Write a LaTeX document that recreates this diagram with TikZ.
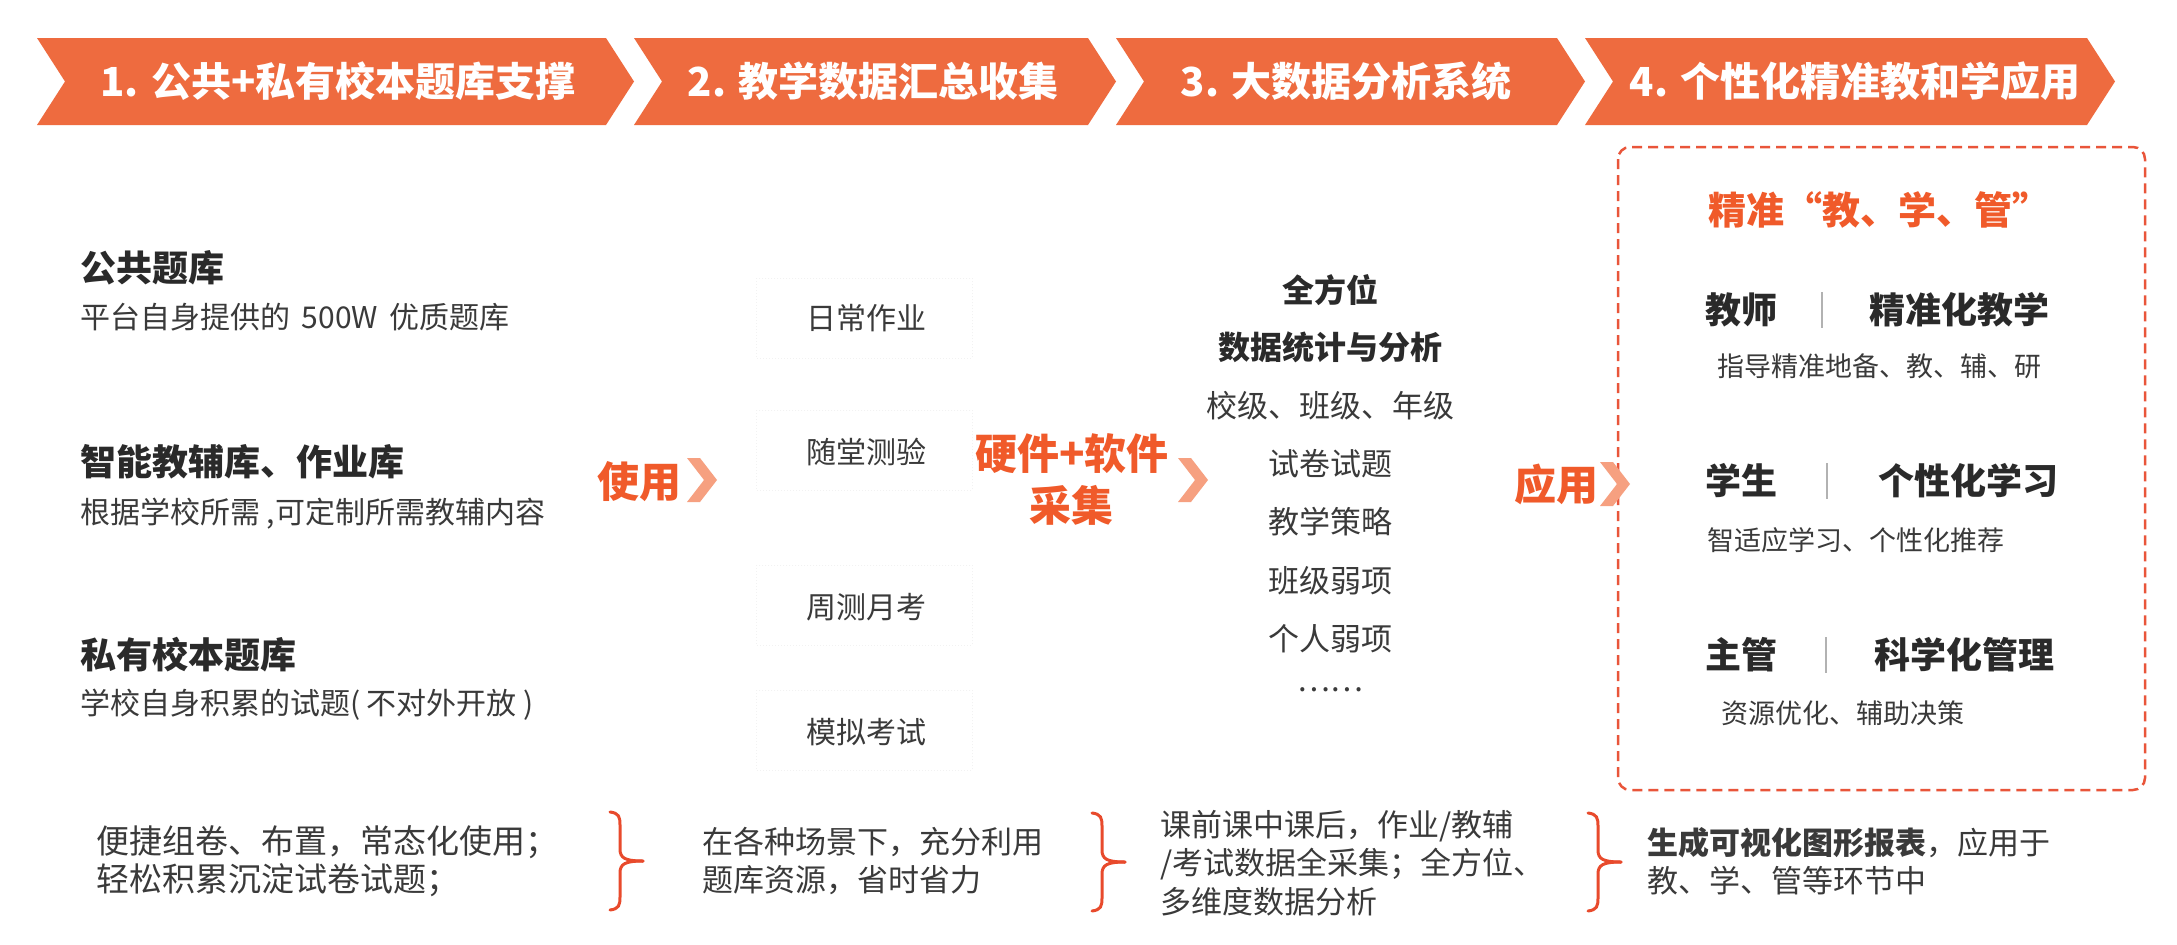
\documentclass[tikz,border=0pt]{standalone}
\usepackage{fontspec}
\newfontfamily\cjk{Noto Sans CJK SC}
\definecolor{bannerc}{HTML}{EE6B3F}
\definecolor{orc}{HTML}{F05A2A}
\definecolor{boxc}{HTML}{E9553A}
\definecolor{bracec}{HTML}{E84A2C}
\definecolor{lightor}{HTML}{F6A080}
\definecolor{darkc}{HTML}{2A2A2A}
\definecolor{midc}{HTML}{3A3A3A}
\newcommand\fsz[1]{\fontsize{#1pt}{#1pt}\selectfont}
\tikzset{
  every node/.style={inner sep=0pt,outer sep=0pt},
  bantext/.style={font=\cjk\bfseries\fsz{40}, text=white},
  head/.style={font=\cjk\bfseries\fsz{36}, text=darkc, anchor=west},
  subt/.style={font=\cjk\fsz{30}, text=midc, anchor=west},
  item/.style={font=\cjk\fsz{30}, text=midc},
  chead/.style={font=\cjk\bfseries\fsz{32}, text=darkc},
  citem/.style={font=\cjk\fsz{31}, text=midc},
  otext/.style={font=\cjk\bfseries\fsz{42}, text=orc},
  rhead/.style={font=\cjk\bfseries\fsz{36}, text=darkc, anchor=west},
  rsub/.style={font=\cjk\fsz{27}, text=midc, anchor=west},
  btext/.style={font=\cjk\fsz{31}, text=midc, anchor=west},
  faintbox/.style={draw=black!5, dotted, line width=1pt},
  sepline/.style={draw=black!30, line width=1.5pt},
  achev/.pic={\fill[lightor] (0,-22) -- (13,-22) -- (30,0) -- (13,22) -- (0,22) -- (17,0) -- cycle;},
  rbrace/.pic={
    \draw[bracec, line width=3pt, line cap=round]
      (0,-49) .. controls (9,-48) and (10,-44) .. (10,-36) -- (10,-12)
      .. controls (10,-3) and (15,0) .. (33,0);
    \draw[bracec, line width=3pt, line cap=round]
      (0,49) .. controls (9,48) and (10,44) .. (10,36) -- (10,12)
      .. controls (10,3) and (15,0) .. (33,0);}
}
\begin{document}
\begin{tikzpicture}[x=1pt,y=-1pt]
\useasboundingbox (0,0) rectangle (2177,945);
\fill[white] (0,0) rectangle (2177,945);

% banner chevrons
\fill[bannerc] (37,38) -- (606,38) -- (634,81.5) -- (606,125) -- (37,125) -- (65,81.5) -- cycle;
\fill[bannerc] (634,38) -- (1088,38) -- (1116,81.5) -- (1088,125) -- (634,125) -- (662,81.5) -- cycle;
\fill[bannerc] (1116,38) -- (1557,38) -- (1585,81.5) -- (1557,125) -- (1116,125) -- (1144,81.5) -- cycle;
\fill[bannerc] (1585,38) -- (2087,38) -- (2115,81.5) -- (2087,125) -- (1585,125) -- (1613,81.5) -- cycle;
\node[bantext] (t1) at (338,81) {1. 公共+私有校本题库支撑};
\node[bantext] (t2) at (873,81) {2. 教学数据汇总收集};
\node[bantext] (t3) at (1346,81) {3. 大数据分析系统};
\node[bantext] (t4) at (1855,81) {4. 个性化精准教和学应用};

% left column
\node[head] (l1h) at (80,268) {公共题库};
\node[subt] (l1s) at (80,317) {平台自身提供的 \,500W\, 优质题库};
\node[head] (l2h) at (80,462) {智能教辅库、作业库};
\node[subt] (l2s) at (80,514) {根据学校所需 ,可定制所需教辅内容};
\node[head] (l3h) at (80,655) {私有校本题库};
\node[subt] (l3s) at (80,705) {学校自身积累的试题( 不对外开放 )};

% use label
\node[otext] (use) at (639,482) {使用};
\pic at (687,480) {achev};

% middle column
\draw[faintbox] (756,278) rectangle (972,358);
\draw[faintbox] (756,410) rectangle (972,490);
\draw[faintbox] (756,565) rectangle (972,645);
\draw[faintbox] (756,690) rectangle (972,770);
\node[item] (m1) at (866,318) {日常作业};
\node[item] (m2) at (866,452) {随堂测验};
\node[item] (m3) at (866,607) {周测月考};
\node[item] (m4) at (866,732) {模拟考试};

\node[otext] (hw) at (1072,454) {硬件+软件};
\node[otext] (cj) at (1071,505) {采集};
\pic at (1178,480) {achev};

% column 3
\node[chead] (c1) at (1330,290) {全方位};
\node[chead] (c2) at (1330,347) {数据统计与分析};
\node[citem] (c3) at (1330,406) {校级、班级、年级};
\node[citem] (c4) at (1330,464) {试卷试题};
\node[citem] (c5) at (1330,522) {教学策略};
\node[citem] (c6) at (1330,581) {班级弱项};
\node[citem] (c7) at (1330,639) {个人弱项};
\node[citem] (c8) at (1330,690) {……};

\node[otext] (app) at (1556,484) {应用};

% right dashed box
\draw[boxc, line width=2.5pt, dash pattern=on 10pt off 6pt, rounded corners=12pt] (1618,147) rectangle (2145,790);
\pic at (1600,484) {achev};
\node[font=\cjk\bfseries\fsz{38}, text=orc] (rt) at (1879,210) {精准“教、学、管”};

\node[rhead] (r1a) at (1705,310) {教师};
\draw[sepline] (1822,292) -- (1822,328);
\node[rhead] (r1b) at (1869,310) {精准化教学};
\node[rsub] (r1s) at (1717,366) {指导精准地备、教、辅、研};

\node[rhead] (r2a) at (1705,481) {学生};
\draw[sepline] (1827,463) -- (1827,499);
\node[rhead] (r2b) at (1878,481) {个性化学习};
\node[rsub] (r2s) at (1707,540) {智适应学习、个性化推荐};

\node[rhead] (r3a) at (1705,655) {主管};
\draw[sepline] (1826,637) -- (1826,673);
\node[rhead] (r3b) at (1874,655) {科学化管理};
\node[rsub] (r3s) at (1721,713) {资源优化、辅助决策};

% bottom row
\node[btext, font=\cjk\fsz{33}] (b1a) at (96,842) {便捷组卷、布置，常态化使用；};
\node[btext, font=\cjk\fsz{33}] (b1b) at (96,880) {轻松积累沉淀试卷试题；};
\pic at (610,861) {rbrace};
\node[btext] (b2a) at (702,842) {在各种场景下，充分利用};
\node[btext] (b2b) at (702,880) {题库资源，省时省力};
\pic at (1092,862) {rbrace};
\node[btext] (b3a) at (1160,826) {课前课中课后，作业/教辅};
\node[btext] (b3b) at (1160,864) {/考试数据全采集；全方位、};
\node[btext] (b3c) at (1160,902) {多维度数据分析};
\pic at (1588,862) {rbrace};
\node[btext] (b4a) at (1647,843) {\textbf{生成可视化图形报表}，应用于};
\node[btext] (b4b) at (1647,881) {教、学、管等环节中};
\end{tikzpicture}
\end{document}
